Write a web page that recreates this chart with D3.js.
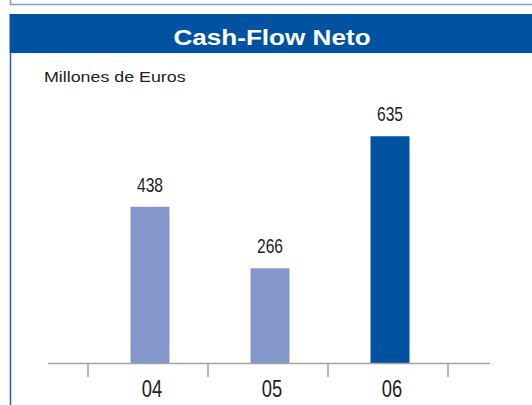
<!DOCTYPE html>
<html>
<head>
<meta charset="utf-8">
<script src="https://cdn.jsdelivr.net/npm/d3@7"></script>
<style>
  body { margin: 0; background: #fff; }
  svg { display: block; }
</style>
</head>
<body>
<div id="chart"></div>
<script>
var years = ['04', '05', '06'];
var cashFlow = [438, 266, 635];
var barColors = ['#8397ca', '#8397ca', '#0152a1'];

var width = 532;
var height = 405;
var sans = 'Arial, "Liberation Sans", sans-serif';

var svg = d3.select('#chart')
    .append('svg')
    .attr('width', width)
    .attr('height', height);

// bottom edge of the panel above
svg.append('path')
    .attr('d', 'M10.5,0 V4.5 H532')
    .attr('fill', 'none')
    .attr('stroke', '#7d9ccb')
    .attr('stroke-width', 1.5);

// header band
svg.append('rect')
    .attr('x', 9.5)
    .attr('y', 14)
    .attr('width', width - 9.5)
    .attr('height', 39)
    .attr('fill', '#0152a1');

svg.append('text')
    .attr('transform', 'translate(272,45) scale(1.16,1)')
    .attr('text-anchor', 'middle')
    .attr('fill', '#fff')
    .style('font-family', sans)
    .style('font-weight', 'bold')
    .style('font-size', '22.5px')
    .text('Cash-Flow Neto');

// left border of panel
svg.append('line')
    .attr('x1', 10.5).attr('x2', 10.5)
    .attr('y1', 53).attr('y2', height)
    .attr('stroke', '#1a5fb8')
    .attr('stroke-width', 1.5);

svg.append('text')
    .attr('transform', 'translate(44,82) scale(1.15,1)')
    .attr('fill', '#222')
    .style('font-family', sans)
    .style('font-size', '15.5px')
    .text('Millones de Euros');

var baseY = 363.5;

var x = d3.scaleBand()
    .domain(years)
    .range([88, 448])
    .padding(0);

var y = d3.scaleLinear()
    .domain([0, 700])
    .range([baseY, 113]);

var barWidth = 39;

svg.selectAll('.bar')
    .data(cashFlow)
    .enter()
    .append('rect')
    .attr('class', 'bar')
    .attr('x', function(d, i) { return x(years[i]) + x.bandwidth() / 2 - barWidth / 2 + 2; })
    .attr('y', function(d) { return y(d); })
    .attr('width', barWidth)
    .attr('height', function(d) { return baseY - y(d); })
    .attr('fill', function(d, i) { return barColors[i]; });

// condensed look: squeeze regular sans horizontally
svg.selectAll('.val')
    .data(cashFlow)
    .enter()
    .append('text')
    .attr('class', 'val')
    .attr('transform', function(d, i) {
        var cx = x(years[i]) + x.bandwidth() / 2 + 2;
        return 'translate(' + cx + ',' + (y(d) - 15) + ') scale(0.8,1)';
    })
    .attr('text-anchor', 'middle')
    .attr('fill', '#222')
    .style('font-family', sans)
    .style('font-size', '19.5px')
    .text(function(d) { return d; });

// axis line and ticks at band edges
svg.append('line')
    .attr('x1', 48).attr('x2', 490)
    .attr('y1', baseY).attr('y2', baseY)
    .attr('stroke', '#a3a3a3')
    .attr('stroke-width', 1.5);

var edges = years.map(function(d) { return x(d); }).concat([x.range()[1]]);

svg.selectAll('.tick')
    .data(edges)
    .enter()
    .append('line')
    .attr('class', 'tick')
    .attr('x1', function(d) { return d; })
    .attr('x2', function(d) { return d; })
    .attr('y1', baseY)
    .attr('y2', 377)
    .attr('stroke', '#a3a3a3')
    .attr('stroke-width', 1.5);

svg.selectAll('.ylab')
    .data(years)
    .enter()
    .append('text')
    .attr('class', 'ylab')
    .attr('transform', function(d) {
        var cx = x(d) + x.bandwidth() / 2 + 4;
        return 'translate(' + cx + ',397) scale(0.8,1)';
    })
    .attr('text-anchor', 'middle')
    .attr('fill', '#222')
    .style('font-family', sans)
    .style('font-size', '23px')
    .text(function(d) { return d; });
</script>
</body>
</html>
